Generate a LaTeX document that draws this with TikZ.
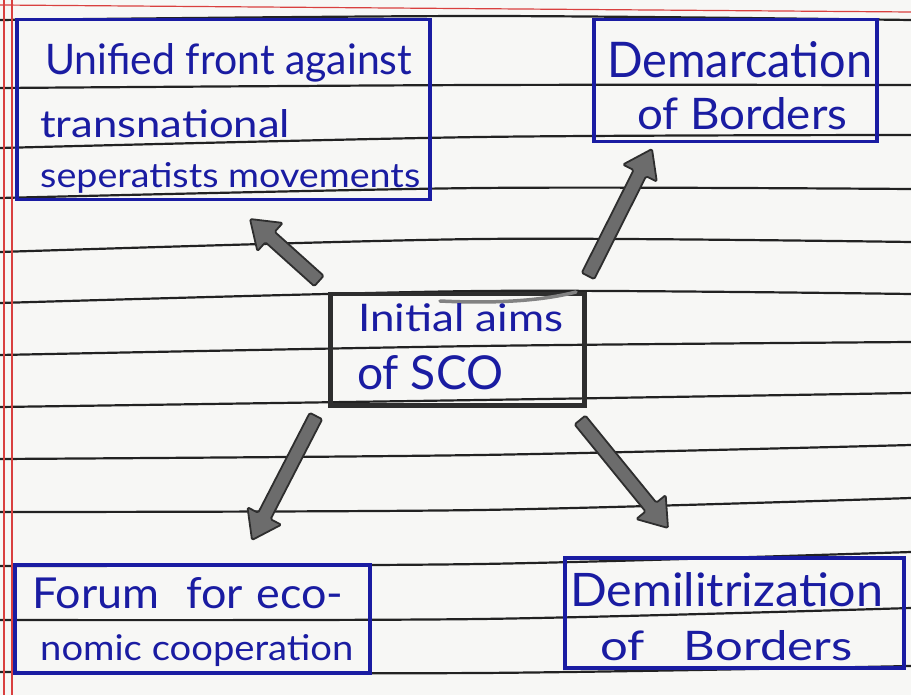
\documentclass[tikz,border=0pt]{standalone}
\usepackage{fontspec}
\usepackage{graphicx}
\usetikzlibrary{calc}
\newfontfamily\hand{Lato}
\definecolor{paper}{HTML}{F7F7F5}
\definecolor{rule}{HTML}{222222}
\definecolor{margin}{HTML}{D9403F}
\definecolor{ink}{HTML}{1A1CA2}
\definecolor{pencil}{HTML}{2E2E2E}
\definecolor{shade}{HTML}{6C6C6C}
% one handwritten line, stretched to a given width and height
\newcommand\hw[3]{\resizebox{#1}{#2}{\hand #3}}
% a broad shaded arrow from coordinate #1 to coordinate #2
\newcommand\fatarrow[2]{%
  \filldraw[fill=shade, draw=pencil, line width=1.8pt, line join=round, rounded corners=1.5pt]
    ($(#1)!7pt!90:(#2)$)
    -- ($($(#2)!27pt!(#1)$)!7pt!90:(#2)$)
    -- ($($(#2)!27pt!(#1)$)!19pt!90:(#2)$)
    -- (#2)
    -- ($($(#2)!27pt!(#1)$)!19pt!-90:(#2)$)
    -- ($($(#2)!27pt!(#1)$)!7pt!-90:(#2)$)
    -- ($(#1)!7pt!-90:(#2)$) -- cycle;}
\tikzset{
  inkbox/.style={draw=ink, line width=3.5pt, rectangle, inner sep=0pt, anchor=north west},
  pencilbox/.style={draw=pencil, line width=4.5pt, rectangle, inner sep=0pt, anchor=north west},
  inkline/.style={text=ink, inner sep=0pt, anchor=base west},
  ruling/.style={rule, line width=2.2pt},
}
\begin{document}
\begin{tikzpicture}[x=1pt,y=-1pt]
% the notebook page
\fill[paper] (0,0) rectangle (911,695);
\useasboundingbox (0,0) rectangle (911,695);
\foreach \a/\b/\c in {20/16/20, 88/85/85, 148/137/135, 198/188/189, 252/239/242,
  303/291/294, 355/346/342, 407/400/393, 459/455/445, 512/510/498,
  566/564/552, 620/619/608, 672/673/666}
  \draw[ruling] plot[smooth] coordinates {(0,\a) (480,\b) (911,\c)};
\draw[margin, line width=1.2pt] (0,5) -- (911,12);
\draw[margin, line width=1.5pt] (4,0) -- (4,695);
\draw[margin, line width=1.5pt] (12,0) -- (12,695);

% boxes
\node[inkbox, minimum width=413pt, minimum height=180pt] (unified) at (15,18) {};
\node[inkbox, minimum width=283pt, minimum height=122pt] (demarc) at (592,18) {};
\node[pencilbox, minimum width=254pt, minimum height=111pt] (aims) at (328,292) {};
\node[inkbox, minimum width=355pt, minimum height=108pt] (forum) at (13,563) {};
\node[inkbox, minimum width=339pt, minimum height=110pt] (demil) at (563,556) {};
\draw[shade!85, line width=3.5pt, line cap=round] (440,301) .. controls (500,304) and (545,300) .. (576,292);

% texts
\node[inkline] (u1) at (45,75)  {\hw{367pt}{31pt}{Unified front against}};
\node[inkline] (u2) at (40,138) {\hw{250pt}{28pt}{transnational}};
\node[inkline] (u3) at (40,188) {\hw{380pt}{25pt}{seperatists movements}};
\node[inkline] (d1) at (607,78)  {\hw{265pt}{36pt}{Demarcation}};
\node[inkline] (d2) at (637,130) {\hw{210pt}{32pt}{of Borders}};
\node[inkline] (c1) at (358,332) {\hw{205pt}{28pt}{Initial aims}};
\node[inkline] (c2) at (357,389) {\hw{146pt}{34pt}{of SCO}};
\node[inkline] (f1) at (32,608)  {\hw{311pt}{31pt}{Forum\hspace{0.6em}for\hspace{0.3em}eco-}};
\node[inkline] (f2) at (40,660)  {\hw{313pt}{26pt}{nomic cooperation}};
\node[inkline] (m1) at (570,606) {\hw{313pt}{34pt}{Demilitrization}};
\node[inkline] (m2) at (600,660) {\hw{252pt}{30pt}{of\hspace{0.8em}Borders}};

% arrows from the centre box towards the four boxes
\coordinate (aUs) at (319,281); \coordinate (aUe) at (250,219);
\coordinate (aDs) at (588,276); \coordinate (aDe) at (652,149);
\coordinate (aFs) at (316,416); \coordinate (aFe) at (252,540);
\coordinate (aMs) at (580,420); \coordinate (aMe) at (668,528);
\fatarrow{aUs}{aUe}
\fatarrow{aDs}{aDe}
\fatarrow{aFs}{aFe}
\fatarrow{aMs}{aMe}
\end{tikzpicture}
\end{document}
